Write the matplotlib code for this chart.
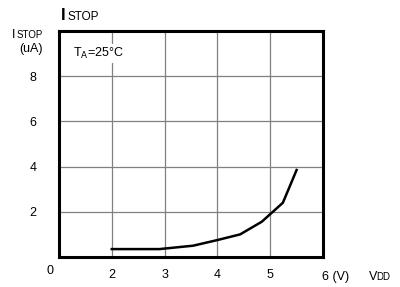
import matplotlib.pyplot as plt

plt.rcParams["font.family"] = ["Liberation Sans", "DejaVu Sans"]

# I_STOP vs V_DD at TA=25C
vdd = [2.0, 2.9, 3.54, 4.0, 4.43, 4.84, 5.24, 5.5]
istop = [0.35, 0.35, 0.5, 0.75, 1.0, 1.56, 2.4, 3.85]

x_ticks = [2, 3, 4, 5]
y_ticks = [2, 4, 6, 8]

W, H = 400, 287
fig = plt.figure(figsize=(W / 100, H / 100), dpi=100)
ax = fig.add_axes([59 / W, 1 - 257 / H, (323 - 59) / W, (257 - 31) / H])


def px(x, y):
    # figure pixel coords -> figure fraction
    return x / W, 1 - y / H


ax.plot(vdd, istop, color="black", linewidth=1.8, solid_joinstyle="miter")
ax.set_xlim(1, 6)
ax.set_ylim(0, 10)
ax.set_xticks(x_ticks)
ax.set_yticks(y_ticks)
ax.tick_params(length=0, labelsize=9)
ax.tick_params(axis="y", pad=16)
ax.tick_params(axis="x", pad=9)
ax.grid(True, color="#808080", linewidth=0.9)
for s in ax.spines.values():
    s.set_linewidth(2.2)
    s.set_color("black")

ax.text(1.27, 9.0, r"T$_\mathrm{A}$=25°C", fontsize=9, va="center", ha="left",
        bbox=dict(facecolor="white", edgecolor="none", pad=1.5))

# title
fig.text(*px(61, 20), "I", fontsize=12, fontweight="bold", ha="left", va="baseline")
fig.text(*px(67, 20), "STOP", fontsize=8.5, ha="left", va="baseline")

# y label
fig.text(*px(12, 38), "I", fontsize=9, ha="left", va="baseline")
fig.text(*px(17, 38), "STOP", fontsize=7, ha="left", va="baseline")
fig.text(*px(31, 49), "(uA)", fontsize=9, ha="center", va="center")

# corner and end labels
fig.text(*px(50, 271), "0", fontsize=9, ha="center", va="center")
fig.text(*px(322, 280), "6 (V)", fontsize=9, ha="left", va="baseline")
fig.text(*px(369, 280), "V", fontsize=9, ha="left", va="baseline")
fig.text(*px(376, 280), "DD", fontsize=7, ha="left", va="baseline")

fig.savefig("out.png", dpi=100)
